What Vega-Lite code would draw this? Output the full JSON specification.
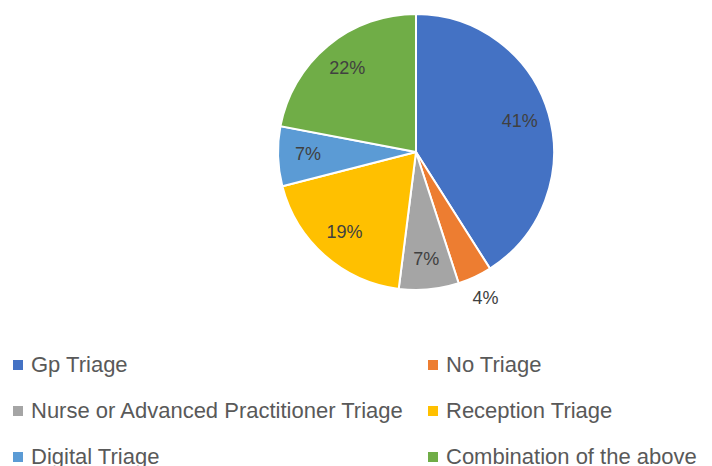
{
  "$schema": "https://vega.github.io/schema/vega-lite/v6.json",
  "width": 592,
  "height": 304,
  "padding": {"left": 120, "top": 0, "right": 0, "bottom": 162},
  "autosize": {"type": "none"},
  "background": "white",
  "config": {"view": {"stroke": null}},
  "data": {
    "values": [
      {"category": "Gp Triage", "value": 0.41, "rank": 1},
      {"category": "No Triage", "value": 0.04, "rank": 2},
      {"category": "Nurse or Advanced Practitioner Triage", "value": 0.07, "rank": 3},
      {"category": "Reception Triage", "value": 0.19, "rank": 4},
      {"category": "Digital Triage", "value": 0.07, "rank": 5},
      {"category": "Combination of the above", "value": 0.22, "rank": 6}
    ]
  },
  "encoding": {
    "theta": {"field": "value", "type": "quantitative", "stack": true},
    "order": {"field": "rank", "type": "quantitative"}
  },
  "layer": [
    {
      "mark": {"type": "arc", "outerRadius": 138, "stroke": "white", "strokeWidth": 2},
      "encoding": {
        "color": {
          "field": "category",
          "type": "nominal",
          "sort": null,
          "scale": {
            "domain": ["Gp Triage", "No Triage", "Nurse or Advanced Practitioner Triage", "Reception Triage", "Digital Triage", "Combination of the above"],
            "range": ["#4472C4", "#ED7D31", "#A5A5A5", "#FFC000", "#5B9BD5", "#70AD47"]
          },
          "legend": {
            "title": null,
            "orient": "none",
            "direction": "horizontal",
            "legendX": -113,
            "legendY": 354,
            "padding": 0,
            "columns": 2,
            "columnPadding": 17,
            "rowPadding": 24,
            "symbolType": "square",
            "symbolSize": 100,
            "symbolStrokeWidth": 0,
            "labelFont": "Liberation Sans",
            "labelFontSize": 22,
            "labelColor": "#595959",
            "labelLimit": 0,
            "labelOffset": 2
          }
        }
      }
    },
    {
      "mark": {"type": "text", "radius": 108, "fontSize": 18, "font": "Liberation Sans", "color": "#404040"},
      "encoding": {
        "text": {
          "condition": {"test": "datum.category != 'No Triage'", "field": "value", "type": "quantitative", "format": ".0%"},
          "value": ""
        }
      }
    },
    {
      "mark": {"type": "text", "radius": 163, "fontSize": 18, "font": "Liberation Sans", "color": "#404040"},
      "encoding": {
        "text": {
          "condition": {"test": "datum.category == 'No Triage'", "field": "value", "type": "quantitative", "format": ".0%"},
          "value": ""
        }
      }
    }
  ]
}
